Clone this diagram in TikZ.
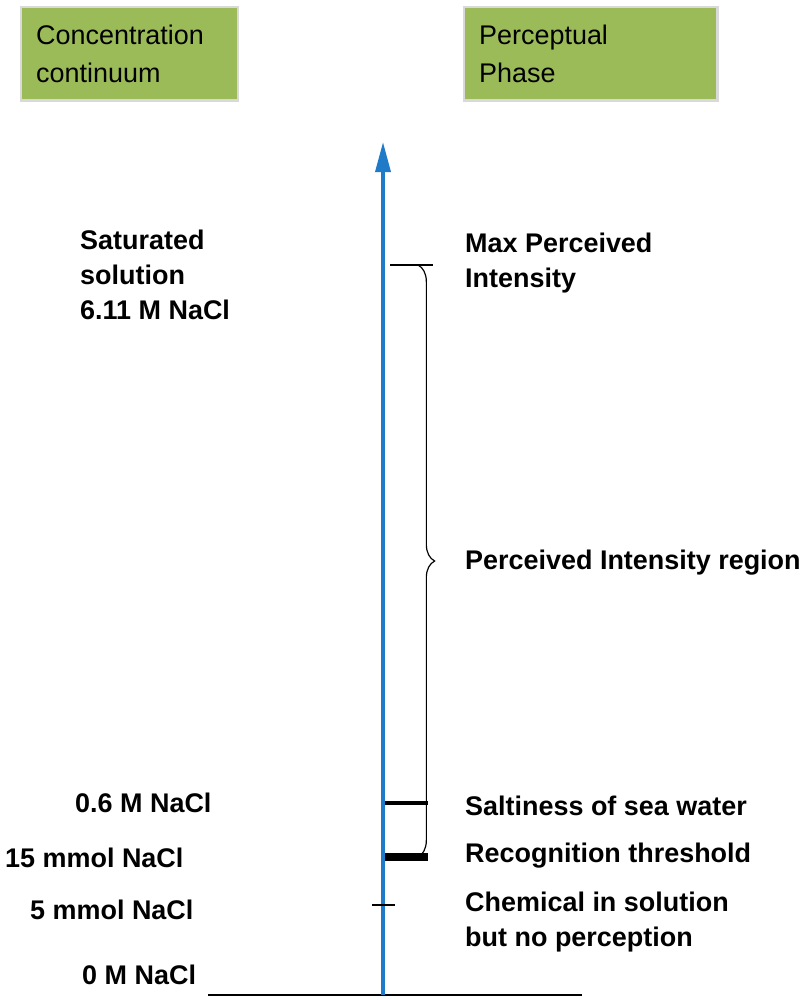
\documentclass[tikz,border=0pt]{standalone}
\usepackage{fontspec}
\setmainfont{Liberation Sans}
\usetikzlibrary{decorations.pathreplacing,arrows.meta}
\definecolor{boxgreen}{RGB}{155, 187, 89}
\definecolor{axisblue}{RGB}{31, 123, 200}
\tikzset{
  phasebox/.style={fill=boxgreen, draw=black!15, line width=2pt, anchor=north west, minimum width=65mm, minimum height=28mm, inner sep=4.5mm, align=left, text width=56mm, font=\fontsize{23}{33}\selectfont},
  conc/.style={font=\bfseries\fontsize{23}{30}\selectfont, anchor=west, align=left, inner sep=0pt},
  tick/.style={line width=2pt}
}
\begin{document}
\begin{tikzpicture}[x=0.3mm,y=-0.3mm]
    \useasboundingbox (0,0) rectangle (812,1000);
    % header boxes
    \node[phasebox] (conbox) at (20,6) {Concentration\\continuum\par\vspace{4mm}};
    \node[phasebox, minimum width=76mm, text width=67mm] (perbox) at (463,6) {Perceptual\\Phase\par\vspace{4mm}};
    % axis
    \coordinate (base) at (383,995);
    \coordinate (top) at (383,142);
    \coordinate (bl) at (208,995);
    \coordinate (br) at (582,995);
    \draw[line width=1.3pt] (bl) -- (br);
    \draw[axisblue, line width=3pt, -{Triangle[length=9mm,width=4.5mm]}] (base) -- (top);
    % ticks
    \coordinate (maxa) at (390,265); \coordinate (maxb) at (433,265);
    \coordinate (seaa) at (385,803); \coordinate (seab) at (428,803);
    \coordinate (reca) at (385,857); \coordinate (recb) at (428,857);
    \coordinate (chma) at (372,905); \coordinate (chmb) at (395,905);
    \draw[tick] (maxa) -- (maxb);
    \draw[tick, line width=3pt] (seaa) -- (seab);
    \draw[tick, line width=6pt] (reca) -- (recb);
    \draw[tick] (chma) -- (chmb);
    % brace
    \coordinate (bra) at (418,265);
    \coordinate (brb) at (418,857);
    \draw[line width=1pt, decorate, decoration={brace, amplitude=5mm}] (bra) -- (brb);
    % concentration labels
    \node[conc] (sat) at (80,275) {Saturated\\solution\\6.11 M NaCl};
    \node[conc] (sea) at (75,803) {0.6 M NaCl};
    \node[conc] (rec) at (5,858) {15 mmol NaCl};
    \node[conc] (chm) at (30,910) {5 mmol NaCl};
    \node[conc] (zero) at (82,975) {0 M NaCl};
    % perceptual labels
    \node[conc] (maxl) at (465,263) {Max Perceived\\Intensity};
    \node[conc] (regl) at (465,563) {Perceived Intensity region};
    \node[conc] (seal) at (465,806) {Saltiness of sea water};
    \node[conc] (recl) at (465,856) {Recognition threshold};
    \node[conc] (chml) at (465,922) {Chemical in solution\\but no perception};
\end{tikzpicture}
\end{document}
